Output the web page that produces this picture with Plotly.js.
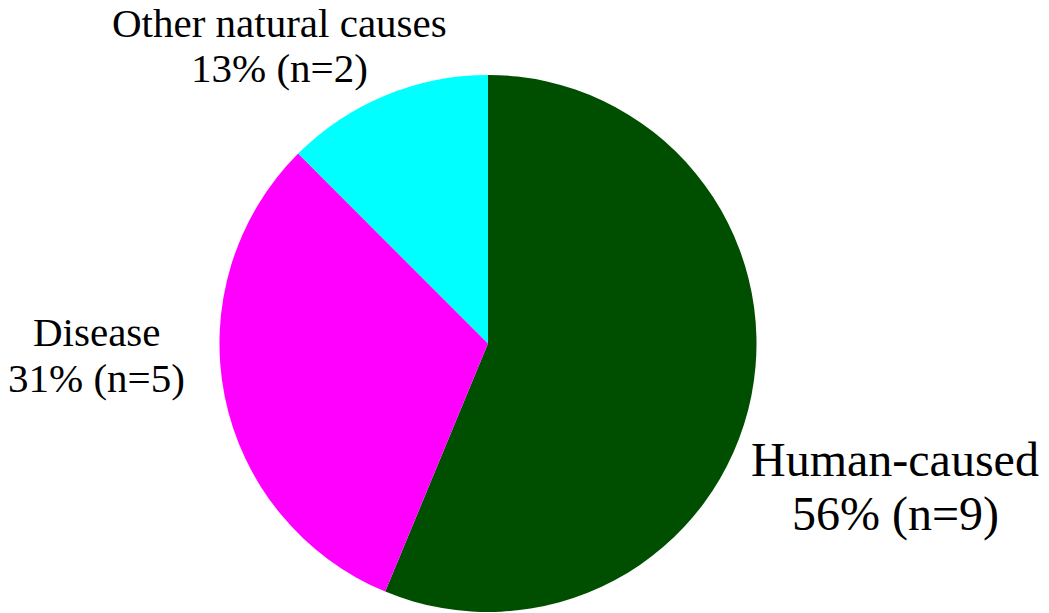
<!DOCTYPE html>
<html>
<head>
<meta charset="utf-8">
<script src="https://cdn.plot.ly/plotly-3.0.1.min.js"></script>
<style>html,body{margin:0;padding:0;background:#fff;}#chart{width:1049px;height:613px;}</style>
</head>
<body>
<div id="chart"></div>
<script>
const categories = ["Human-caused", "Disease", "Other natural causes"];
const counts = [9, 5, 2];
const percentLabels = ["56%", "31%", "13%"];
const colors = ["#004f00", "#ff00ff", "#00ffff"];

const trace = {
  type: "pie",
  labels: categories,
  values: counts,
  sort: false,
  direction: "clockwise",
  rotation: 0,
  textinfo: "none",
  hoverinfo: "label+value+percent",
  marker: { colors: colors, line: { width: 0 } },
  domain: { x: [0.2078, 0.7226], y: [0.0016, 0.8777] },
  showlegend: false
};

// label placement: x centre, y of first and second line (paper fraction), font size
const labelPos = [
  { x: 0.8532, y1: 0.2496, y2: 0.1615, size: 48 },
  { x: 0.0920, y1: 0.4584, y2: 0.3834, size: 41 },
  { x: 0.2660, y1: 0.9617, y2: 0.8891, size: 41 }
];

const annotations = [];
categories.forEach((c, i) => {
  const p = labelPos[i];
  const font = { family: "Liberation Serif", size: p.size, color: "#000" };
  annotations.push({
    xref: "paper", yref: "paper", x: p.x, y: p.y1,
    xanchor: "center", yanchor: "middle", showarrow: false,
    text: c, font: font
  });
  annotations.push({
    xref: "paper", yref: "paper", x: p.x, y: p.y2,
    xanchor: "center", yanchor: "middle", showarrow: false,
    text: percentLabels[i] + " (n=" + counts[i] + ")", font: font
  });
});

const layout = {
  width: 1049, height: 613,
  margin: { l: 0, r: 0, t: 0, b: 0 },
  paper_bgcolor: "#fff",
  font: { family: "Liberation Serif" },
  annotations: annotations
};

Plotly.newPlot("chart", [trace], layout, { displayModeBar: false, staticPlot: true });
</script>
</body>
</html>
